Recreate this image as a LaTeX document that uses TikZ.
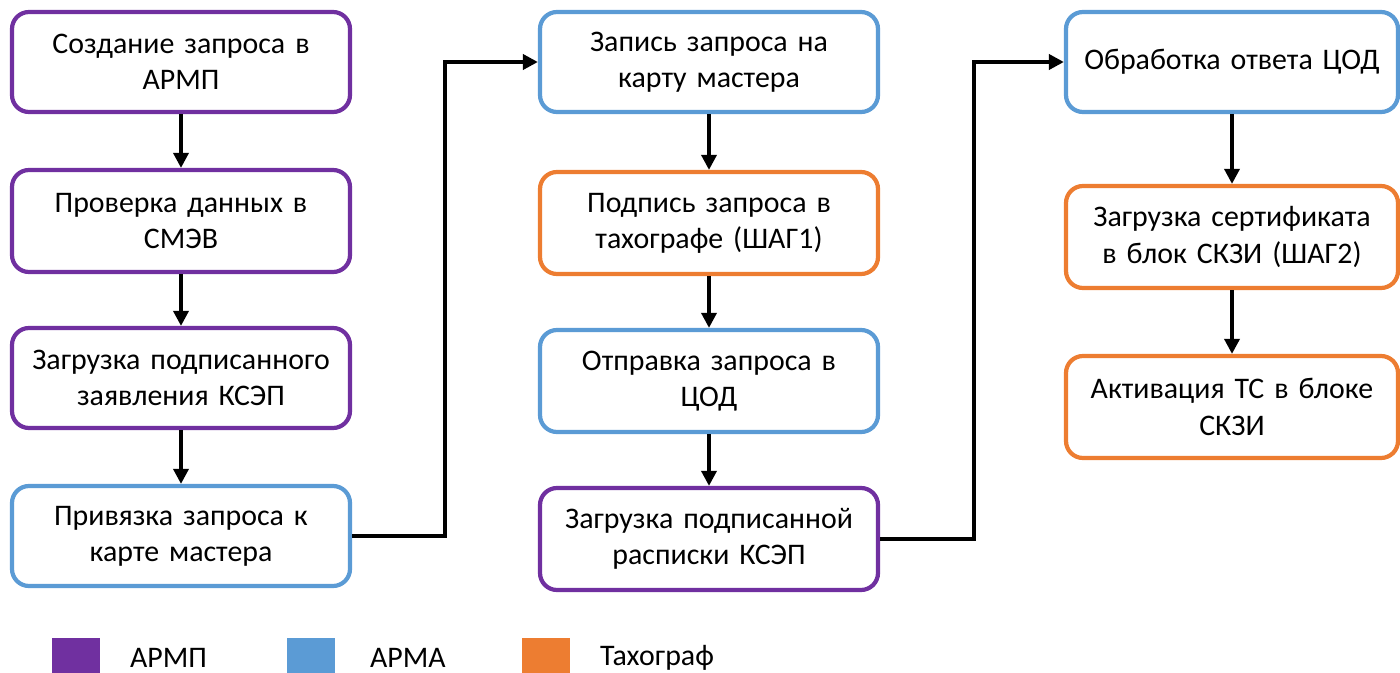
\documentclass[tikz,border=0pt]{standalone}
\usepackage{fontspec}
\setmainfont{Carlito}
\usetikzlibrary{arrows.meta}
\definecolor{armp}{HTML}{7030A0}
\definecolor{arma}{HTML}{5B9BD5}
\definecolor{tacho}{HTML}{ED7D31}
\begin{document}
\begin{tikzpicture}[line width=1.2pt, every node/.style={font=\fontsize{8.5}{10.3}\selectfont},
  box/.style={draw, rounded corners=0.17cm, minimum width=3.38cm, minimum height=1.0cm,
    text width=3.2cm, align=center, inner sep=0pt, fill=white},
  link/.style={black, line width=1pt, -{Triangle[width=1.5mm, length=1.5mm]}},
  elbow/.style={black, line width=1.2pt, -{Triangle[width=1.5mm, length=1.5mm]}}]
  \useasboundingbox (0,0) rectangle (14,-6.73);
  % Column 1
  \node[box, draw=armp] (a1) at (1.81,-0.62) {Создание запроса в\\АРМП};
  \node[box, draw=armp, minimum height=1.02cm] (a2) at (1.81,-2.21) {Проверка данных в\\СМЭВ};
  \node[box, draw=armp] (a3) at (1.81,-3.78) {Загрузка подписанного\\заявления КСЭП};
  \node[box, draw=arma] (a4) at (1.81,-5.36) {Привязка запроса к\\карте мастера};
  % Column 2
  \node[box, draw=arma] (b1) at (7.09,-0.62) {Запись запроса на\\карту мастера};
  \node[box, draw=tacho, minimum height=1.02cm] (b2) at (7.09,-2.23) {Подпись запроса в\\тахографе (ШАГ1)};
  \node[box, draw=arma, minimum height=1.02cm] (b3) at (7.09,-3.81) {Отправка запроса в\\ЦОД};
  \node[box, draw=armp, minimum height=1.02cm] (b4) at (7.09,-5.39) {Загрузка подписанной\\расписки КСЭП};
  % Column 3
  \node[box, draw=arma, minimum width=3.32cm] (c1) at (12.32,-0.62) {Обработка ответа ЦОД};
  \node[box, draw=tacho, minimum width=3.32cm, minimum height=1.02cm] (c2) at (12.32,-2.37) {Загрузка сертификата\\в блок СКЗИ (ШАГ2)};
  \node[box, draw=tacho, minimum width=3.32cm, minimum height=1.02cm] (c3) at (12.32,-4.07) {Активация ТС в блоке\\СКЗИ};
  % Vertical arrows
  \draw[link] (a1) -- (a2);
  \draw[link] (a2) -- (a3);
  \draw[link] (a3) -- (a4);
  \draw[link] (b1) -- (b2);
  \draw[link] (b2) -- (b3);
  \draw[link] (b3) -- (b4);
  \draw[link] (c1) -- (c2);
  \draw[link] (c2) -- (c3);
  % Column jumps
  \draw[elbow] (a4.east) -- ++(0.93,0) |- (b1.west);
  \draw[elbow] (b4.east) -- ++(0.94,0) |- (c1.west);
  % Legend
  \fill[armp] (0.52,-6.38) rectangle (1.00,-6.74);
  \fill[arma] (2.87,-6.38) rectangle (3.35,-6.74);
  \fill[tacho] (5.22,-6.38) rectangle (5.70,-6.74);
  \node[anchor=west, inner sep=0pt] (l1) at (1.28,-6.58) {АРМП};
  \node[anchor=west, inner sep=0pt] (l2) at (3.68,-6.58) {АРМА};
  \node[anchor=west, inner sep=0pt] (l3) at (5.98,-6.58) {Тахограф};
\end{tikzpicture}
\end{document}
